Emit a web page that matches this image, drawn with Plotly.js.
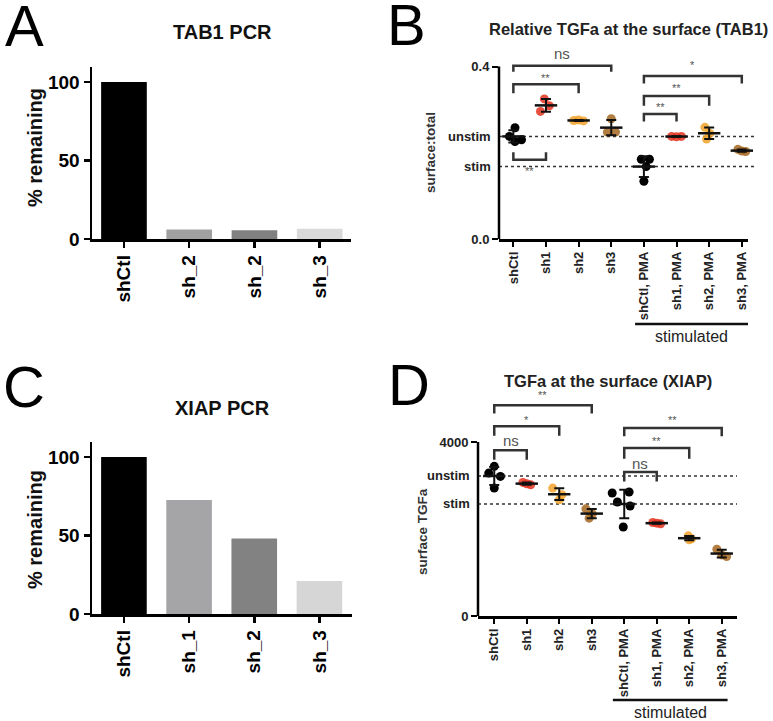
<!DOCTYPE html>
<html><head><meta charset="utf-8">
<script src="https://cdn.plot.ly/plotly-3.0.1.min.js"></script>
<style>html,body{margin:0;padding:0;background:#fff}#chart{width:773px;height:721px}</style>
</head><body><div id="chart"></div>
<script>
// ---------- DATA ----------
const tab1Cats = ['shCtl', 'sh_2', 'sh_2', 'sh_3'];
const tab1Remaining = [100, 6, 5.5, 6.5];
const barColorsA = ['#000000', '#a0a0a0', '#808080', '#d9d9d9'];

const xiapCats = ['shCtl', 'sh_1', 'sh_2', 'sh_3'];
const xiapRemaining = [100, 72.5, 48, 21];
const barColorsC = ['#000000', '#a5a5a8', '#828282', '#d6d6d6'];

const groups = ['shCtl', 'sh1', 'sh2', 'sh3', 'shCtl, PMA', 'sh1, PMA', 'sh2, PMA', 'sh3, PMA'];
const groupColors = ['#000000', '#e3321f', '#f2a22a', '#a5661f', '#000000', '#e3321f', '#f2a22a', '#a5661f'];

const tab1Values = [
  [0.258, 0.238, 0.226, 0.230],
  [0.325, 0.309, 0.296],
  [0.275, 0.276, 0.274],
  [0.279, 0.248, 0.248],
  [0.185, 0.185, 0.168, 0.134],
  [0.238, 0.237, 0.238],
  [0.259, 0.245, 0.232],
  [0.208, 0.204, 0.203]
];
const tab1Jitter = [
  [0.05, -0.12, 0.05, 0.25],
  [-0.05, 0.10, -0.17],
  [-0.15, 0.0, 0.15],
  [0.0, -0.12, 0.13],
  [-0.08, 0.17, 0.07, 0.0],
  [-0.15, 0.0, 0.15],
  [-0.13, 0.02, -0.08],
  [-0.12, 0.0, 0.12]
];
const xiapValues = [
  [3440, 3286, 3209, 2940],
  [3071, 3040, 3017],
  [2940, 2787, 2671],
  [2464, 2349, 2249],
  [2828, 2851, 2621, 2529, 2046],
  [2150, 2134, 2119],
  [1843, 1773, 1750],
  [1536, 1405, 1366]
];
const xiapJitter = [
  [0.0, -0.17, 0.19, 0.0],
  [-0.12, 0.0, 0.12],
  [-0.2, 0.08, 0.0],
  [-0.18, 0.02, -0.08],
  [-0.37, 0.15, -0.21, 0.18, -0.03],
  [-0.12, 0.0, 0.12],
  [-0.03, 0.07, 0.0],
  [-0.15, 0.0, 0.15]
];
// comparisons: [group a, group b, label]
const tab1Comparisons = [[0, 3, 'ns'], [0, 2, '**'], [0, 1, '**'], [4, 7, '*'], [4, 6, '**'], [4, 5, '**']];
const xiapComparisons = [[0, 3, '**'], [0, 2, '*'], [0, 1, 'ns'], [4, 7, '**'], [4, 6, '**'], [4, 5, 'ns']];

// ---------- LAYOUT HELPERS ----------
const W = 773, H = 721;
const px = x => x / W, py = y => 1 - y / H;
const FONT = 'Liberation Sans, Arial, sans-serif';

const traces = [];
traces.push({type: 'bar', x: tab1Cats.map((_, i) => i), y: tab1Remaining, width: 0.7,
  marker: {color: barColorsA, line: {width: 0}}, xaxis: 'x', yaxis: 'y', hoverinfo: 'skip'});
traces.push({type: 'bar', x: xiapCats.map((_, i) => i), y: xiapRemaining, width: 0.7,
  marker: {color: barColorsC, line: {width: 0}}, xaxis: 'x3', yaxis: 'y3', hoverinfo: 'skip'});

function dotTraces(values, jitter, xa, ya) {
  values.forEach((vals, i) => {
    traces.push({type: 'scatter', mode: 'markers', x: vals.map((_, k) => i + jitter[i][k]), y: vals,
      marker: {color: groupColors[i], size: 9, opacity: groupColors[i] === '#000000' ? 1 : 0.85},
      xaxis: xa, yaxis: ya, cliponaxis: false, hoverinfo: 'skip'});
  });
  const means = values.map(v => v.reduce((a, b) => a + b, 0) / v.length);
  const sds = values.map((v, i) => Math.sqrt(v.reduce((a, b) => a + (b - means[i]) ** 2, 0) / (v.length - 1)));
  traces.push({type: 'scatter', mode: 'markers', x: values.map((_, i) => i), y: means,
    marker: {symbol: 'line-ew', size: 16, color: '#111', line: {width: 2.5, color: '#111'}},
    error_y: {type: 'data', array: sds, visible: true, color: '#111', thickness: 2, width: 5},
    xaxis: xa, yaxis: ya, cliponaxis: false, hoverinfo: 'skip'});
  return means;
}
const tab1Means = dotTraces(tab1Values, tab1Jitter, 'x2', 'y2');
const xiapMeans = dotTraces(xiapValues, xiapJitter, 'x4', 'y4');

const axBase = {showgrid: false, zeroline: false, showline: true, linecolor: '#000', linewidth: 2.5,
  ticks: 'outside', tickcolor: '#000', tickwidth: 2.5, ticklen: 6, fixedrange: true};
const bigTick = {family: FONT, size: 19, weight: 'bold', color: '#000'};
const smallTick = {family: FONT, size: 13, weight: 'bold', color: '#222'};

const layout = {
  width: W, height: H, margin: {l: 0, r: 0, t: 0, b: 0}, showlegend: false,
  paper_bgcolor: '#fff', plot_bgcolor: 'rgba(0,0,0,0)', font: {family: FONT},
  xaxis: {...axBase, domain: [px(92), px(351)], range: [-0.49, 3.48], tickvals: tab1Cats.map((_, i) => i),
    ticktext: tab1Cats, tickangle: -90, tickfont: bigTick, anchor: 'y'},
  yaxis: {...axBase, domain: [py(239), py(67)], range: [0, 109.5], tickvals: [0, 50, 100], tickfont: bigTick, anchor: 'x'},
  xaxis3: {...axBase, domain: [px(92), px(352)], range: [-0.49, 3.5], tickvals: xiapCats.map((_, i) => i),
    ticktext: xiapCats, tickangle: -90, tickfont: bigTick, anchor: 'y3'},
  yaxis3: {...axBase, domain: [py(614), py(442)], range: [0, 109.5], tickvals: [0, 50, 100], tickfont: bigTick, anchor: 'x3'},
  xaxis2: {...axBase, domain: [px(499), px(748)], range: [-0.44, 7.19], tickvals: groups.map((_, i) => i),
    ticktext: groups, tickangle: -90, tickfont: smallTick, ticklen: 5, tickwidth: 2, anchor: 'y2'},
  yaxis2: {...axBase, showline: false, domain: [py(239), py(36.4)], range: [0, 0.47], tickvals: [0, 0.4],
    ticktext: ['0.0', '0.4'], tickfont: smallTick, ticklen: 6, tickwidth: 2, anchor: 'x2'},
  xaxis4: {...axBase, domain: [px(478), px(737)], range: [-0.5, 7.47], tickvals: groups.map((_, i) => i),
    ticktext: groups, tickangle: -90, tickfont: smallTick, ticklen: 5, tickwidth: 2, anchor: 'y4'},
  yaxis4: {...axBase, showline: false, domain: [py(616), py(381.1)], range: [0, 5400], tickvals: [0, 4000],
    ticktext: ['0', '4000'], tickfont: smallTick, ticklen: 6, tickwidth: 2, anchor: 'x4'},
  shapes: [], annotations: []
};

const ann = (o) => layout.annotations.push(Object.assign({showarrow: false, xanchor: 'center', yanchor: 'middle'}, o));
// panel letters
[['A', 3, 26], ['B', 385, 25], ['C', 1, 386], ['D', 386, 384]].forEach(([t, x, y]) =>
  ann({text: t, xref: 'paper', yref: 'paper', x: px(x), y: py(y), xanchor: 'left', yanchor: 'middle',
    font: {family: FONT, size: 58, color: '#000'}}));
// titles
ann({text: 'TAB1 PCR', xref: 'paper', yref: 'paper', x: px(222), y: py(32), font: {family: FONT, size: 20, weight: 'bold', color: '#111'}});
ann({text: 'XIAP PCR', xref: 'paper', yref: 'paper', x: px(222), y: py(408), font: {family: FONT, size: 20, weight: 'bold', color: '#111'}});
ann({text: 'Relative TGFa at the surface (TAB1)', xref: 'paper', yref: 'paper', x: px(628), y: py(29), font: {family: FONT, size: 16.5, weight: 'bold', color: '#222'}});
ann({text: 'TGFa at the surface (XIAP)', xref: 'paper', yref: 'paper', x: px(608), y: py(381), font: {family: FONT, size: 16.5, weight: 'bold', color: '#222'}});
// y titles
ann({text: '% remaining', xref: 'paper', yref: 'paper', x: px(35), y: py(148), textangle: -90, font: {family: FONT, size: 20, weight: 'bold', color: '#111'}});
ann({text: '% remaining', xref: 'paper', yref: 'paper', x: px(35), y: py(530), textangle: -90, font: {family: FONT, size: 20, weight: 'bold', color: '#111'}});
ann({text: 'surface:total', xref: 'paper', yref: 'paper', x: px(430), y: py(153), textangle: -90, font: {family: FONT, size: 13.5, weight: 'bold', color: '#333'}});
ann({text: 'surface TGFa', xref: 'paper', yref: 'paper', x: px(422), y: py(531), textangle: -90, font: {family: FONT, size: 13.5, weight: 'bold', color: '#333'}});

// manual y axis lines for B and D (they stop at top tick)
layout.shapes.push({type: 'line', xref: 'x2 domain', yref: 'y2', x0: 0, x1: 0, y0: 0, y1: 0.4, line: {color: '#000', width: 2.5}});
layout.shapes.push({type: 'line', xref: 'x4 domain', yref: 'y4', x0: 0, x1: 0, y0: 0, y1: 4000, line: {color: '#000', width: 2.5}});

// reference lines (unstim = control mean, stim = control PMA mean)
function refLines(xa, ya, means, xEnd) {
  [[means[0], 'unstim'], [means[4], 'stim']].forEach(([v, t]) => {
    layout.shapes.push({type: 'line', layer: 'below', xref: xa + ' domain', yref: ya, x0: 0, x1: xEnd, y0: v, y1: v,
      line: {color: '#333', width: 1.5, dash: 'dot'}});
    ann({text: t, xref: xa + ' domain', yref: ya, x: 0, y: v, xanchor: 'right', xshift: -6,
      font: {family: FONT, size: 13, weight: 'bold', color: '#222'}});
  });
}
refLines('x2', 'y2', tab1Means, 1.036);
refLines('x4', 'y4', xiapMeans, 1.0);

// significance brackets
function bracket(xa, ya, a, b, label, yLine, yLeg, yText) {
  layout.shapes.push({type: 'path', xref: xa, yref: ya,
    path: `M ${a},${yLeg} L ${a},${yLine} L ${b},${yLine} L ${b},${yLeg}`,
    line: {color: '#333', width: 2.5}});
  const isNs = label === 'ns';
  ann({text: label, xref: xa, yref: ya, x: (a + b) / 2, y: yText,
    font: {family: FONT, size: isNs ? 15 : 11, color: '#555'}});
}
const tab1Heights = [[0.402, 0.388, 0.431], [0.359, 0.338, 0.3745], [0.184, 0.201, 0.157], [0.378, 0.361, 0.404], [0.332, 0.309, 0.350], [0.290, 0.2726, 0.307]];
tab1Comparisons.forEach(([a, b, l], i) => {
  const [yl, yg, yt] = tab1Heights[i];
  bracket('x2', 'y2', a, b, l, yl, yg, yt);
});
const xiapHeights = [[4845, 4653, 5090], [4361, 4146, 4514], [3808, 3593, 4031], [4322, 4131, 4514], [3862, 3616, 4015], [3309, 3094, 3516]];
xiapComparisons.forEach(([a, b, l], i) => {
  const [yl, yg, yt] = xiapHeights[i];
  bracket('x4', 'y4', a, b, l, yl, yg, yt);
});

// "stimulated" underline
function stimLabel(xa, x0, x1, yLine, yText) {
  layout.shapes.push({type: 'line', xref: xa, yref: 'paper', x0: x0, x1: x1, y0: py(yLine), y1: py(yLine),
    line: {color: '#111', width: 2.5}});
  ann({text: 'stimulated', xref: xa, yref: 'paper', x: (x0 + x1) / 2, y: py(yText),
    font: {family: FONT, size: 16, color: '#222'}});
}
stimLabel('x2', 3.73, 7.19, 324, 336);
stimLabel('x4', 3.65, 7.18, 700, 712);

Plotly.newPlot('chart', traces, layout, {staticPlot: true, displayModeBar: false});
</script>
</body></html>
